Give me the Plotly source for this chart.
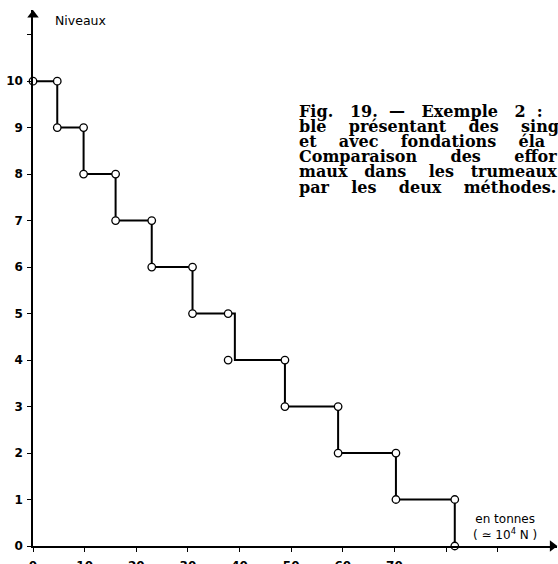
import plotly.graph_objects as go

# ---- data ----
levels = [10, 9, 8, 7, 6, 5, 4, 3, 2, 1]
# method 1 (circles) – effort (tonnes) at each level
effort_circles = [4.7, 9.8, 16.0, 23.0, 30.9, 37.8, 48.8, 59.1, 70.3, 81.7]
# method 2 (line) – effort (tonnes) at each level
effort_line = [4.7, 9.8, 16.0, 23.0, 30.9, 39.1, 48.8, 59.1, 70.3, 81.7]

y_tickvals = list(range(0, 11))
y_ticktext = [str(v) for v in y_tickvals]
y_minor_ticks = [11]
x_tickvals = [0, 10, 20, 30, 40, 50, 60, 70]
x_ticktext = [str(v) for v in x_tickvals]
x_minor_ticks = [80, 90]

NB = "\u00a0"
caption_words = [
    (["Fig.", "19.", "—", "Exemple", "2", ":"], [2, 1, 2, 2, 1]),
    (["ble", "présentant", "des", "sing"], [3, 3, 3]),
    (["et", "avec", "fondations", "éla"], [3, 3, 3]),
    (["Comparaison", "des", "effor"], [5, 5]),
    (["maux", "dans", "les", "trumeaux"], [2, 3, 2]),
    (["par", "les", "deux", "méthodes."], [3, 3, 3]),
]


def justify(words, pads):
    out = words[0]
    for w, p in zip(words[1:], pads):
        out += " " + NB * p + w
    return out


caption_lines = [justify(w, p) for w, p in caption_words]

# ---- layout geometry ----
W, H = 558, 564
L, R, T, B = 33, 1, 10, 18


def px_x(px):
    return (px - L) / (W - L - R)


def px_y(py):
    return (H - B - py) / (H - T - B)


def step_path(values, top):
    xs, ys = [0], [top]
    for v, lev in zip(values, levels):
        xs += [v, v]
        ys += [lev, lev - 1]
    return xs, ys


lx, ly = step_path(effort_line, levels[0])
cx, cy = step_path(effort_circles, levels[0])

fig = go.Figure()
fig.add_trace(go.Scatter(x=lx, y=ly, mode="lines",
                         line=dict(color="black", width=2),
                         hoverinfo="skip", showlegend=False, cliponaxis=False))
fig.add_trace(go.Scatter(x=cx, y=cy, mode="markers",
                         marker=dict(symbol="circle", size=7.5, color="white",
                                     line=dict(color="black", width=1.3)),
                         showlegend=False, cliponaxis=False))
# axis arrowheads
fig.add_trace(go.Scatter(x=[0], y=[11.42], mode="markers",
                         marker=dict(symbol="triangle-up", size=10, color="black"),
                         showlegend=False, cliponaxis=False, hoverinfo="skip"))
fig.add_trace(go.Scatter(x=[100.6], y=[0], mode="markers",
                         marker=dict(symbol="triangle-right", size=10, color="black"),
                         showlegend=False, cliponaxis=False, hoverinfo="skip"))

tickfont = dict(family="DejaVu Sans", size=12, color="black", weight="bold")

fig.update_xaxes(range=[0, 101.5], showgrid=False, zeroline=False,
                 showline=True, linecolor="black", linewidth=1.5,
                 ticks="outside", ticklen=4, tickwidth=1.2, tickcolor="black",
                 tickvals=x_tickvals, ticktext=x_ticktext, tickfont=tickfont,
                 ticklabelstandoff=4,
                 minor=dict(tickvals=x_minor_ticks, ticks="outside", ticklen=4,
                            tickwidth=1.2, tickcolor="black", showgrid=False))
fig.update_yaxes(range=[0, 11.53], showgrid=False, zeroline=False,
                 showline=True, linecolor="black", linewidth=1.5,
                 ticks="outside", ticklen=4, tickwidth=1.2, tickcolor="black",
                 tickvals=y_tickvals, ticktext=y_ticktext, tickfont=tickfont,
                 ticklabelstandoff=2,
                 minor=dict(tickvals=y_minor_ticks, ticks="outside", ticklen=4,
                            tickwidth=1.2, tickcolor="black", showgrid=False))

annotations = []
annotations.append(dict(text="Niveaux", x=px_x(53), y=px_y(20), xref="paper", yref="paper",
                        xanchor="left", yanchor="middle", showarrow=False,
                        font=dict(family="DejaVu Sans", size=12.5, color="black")))
annotations.append(dict(text="en tonnes<br>( ≃ 10<sup>4</sup> N )", x=px_x(505), y=px_y(527),
                        xref="paper", yref="paper", xanchor="center", yanchor="middle",
                        showarrow=False, align="center",
                        font=dict(family="DejaVu Sans", size=12, color="black")))
for i, line in enumerate(caption_lines):
    annotations.append(dict(text=line, x=px_x(297), y=px_y(111 + 15.2 * i),
                            xref="paper", yref="paper", xanchor="left", yanchor="middle",
                            showarrow=False,
                            font=dict(family="DejaVu Serif", size=16, color="black",
                                      weight="bold")))

fig.update_layout(width=W, height=H, margin=dict(l=L, r=R, t=T, b=B, autoexpand=False),
                  paper_bgcolor="white", plot_bgcolor="white",
                  annotations=annotations)

fig.write_html("out.html")
